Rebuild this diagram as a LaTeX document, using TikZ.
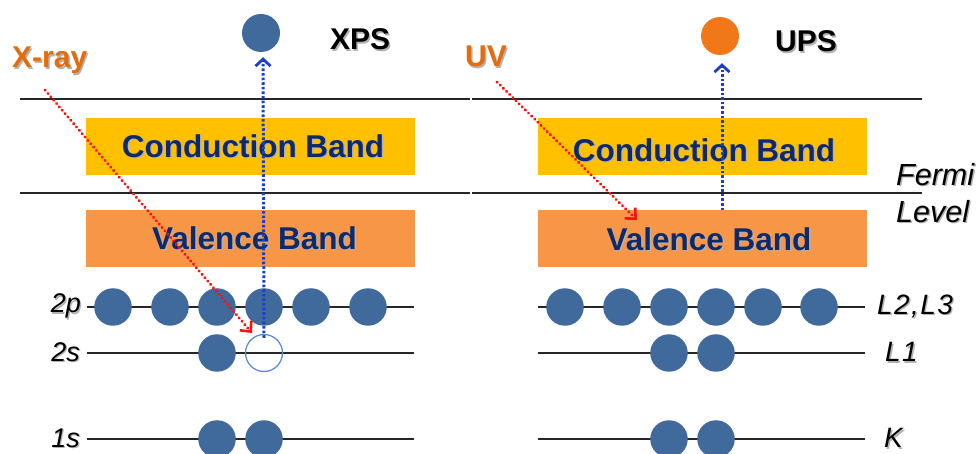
\documentclass[tikz,border=0pt]{standalone}
\usepackage{fontspec}
\setmainfont{Liberation Sans}
\usetikzlibrary{arrows.meta}
\definecolor{elec}{HTML}{40699C}
\definecolor{cband}{HTML}{FFC000}
\definecolor{vband}{HTML}{F79646}
\definecolor{bandtxt}{HTML}{0E2A6B}
\definecolor{rayc}{HTML}{E46C0A}
\definecolor{upsc}{HTML}{F07818}
\definecolor{holec}{HTML}{5B8FD0}
\definecolor{redar}{HTML}{FF1010}
\definecolor{bluar}{HTML}{1A40C8}
\newcommand\shd[2][black!30]{\leavevmode\rlap{\kern1.4pt\raisebox{-1.4pt}{\textcolor{#1}{#2}}}#2}
\tikzset{
  band/.style={minimum width=329pt, minimum height=57pt, inner sep=0pt},
  cb/.style={band, fill=cband},
  vb/.style={band, fill=vband},
  bandlabel/.style={inner sep=0pt, text=bandtxt, font=\bfseries\fontsize{31.5}{31.5}\selectfont},
  level/.style={line width=1.3pt, black!85},
  sep/.style={line width=1.2pt, black!85},
  el/.style={circle, fill=elec, minimum size=37.5pt, inner sep=0pt},
  holebox/.style={circle, draw=holec, line width=1.3pt, minimum size=37pt, inner sep=0pt},
  lvl/.style={inner sep=0pt, font=\itshape\fontsize{27}{27}\selectfont},
  title/.style={inner sep=0pt, anchor=base west, font=\bfseries\fontsize{30}{30}\selectfont},
  redray/.style={redar, line width=3pt, line cap=round, dash pattern=on 0.4pt off 4pt,
    -{Straight Barb[length=8pt,width=15pt,line width=2.6pt]}},
  bluray/.style={bluar, line width=3pt, dash pattern=on 2.6pt off 2pt,
    -{Straight Barb[length=7pt,width=15pt,line width=2.8pt]}},
}
\begin{document}
\begin{tikzpicture}[x=1pt,y=-1pt]
\useasboundingbox[fill=white] (0,0) rectangle (978,454);
% separator lines
\draw[sep] (20,99) -- (470,99);
\draw[sep] (472,99) -- (922,99);
\draw[sep] (20,193) -- (470,193);
\draw[sep] (472,193) -- (922,193);
% bands
\node[cb] (cbL) at (250.5,146.5) {};
\node[vb] (vbL) at (250.5,239) {};
\node[cb] (cbR) at (702,146.5) {};
\node[vb] (vbR) at (702,239) {};
\node[bandlabel] (cbLt) at (253,147) {\shd{Conduction Band}};
\node[bandlabel] (vbLt) at (254.5,239) {\shd{Valence Band}};
\node[bandlabel] (cbRt) at (704,151) {\shd{Conduction Band}};
\node[bandlabel] (vbRt) at (709,240) {\shd{Valence Band}};
% level lines
\foreach \y in {307,353,439} {
  \draw[level] (87,\y) -- (414,\y);
  \draw[level] (538,\y) -- (865,\y);
}
% left electrons
\foreach \x [count=\i] in {113,170,217,264,311,368} \node[el] (pL\i) at (\x,307) {};
\node[el] (sL1) at (217,353) {};
\node[holebox] (hole) at (264,353) {};
\node[el] (kL1) at (217,439) {};
\node[el] (kL2) at (264,439) {};
% right electrons
\foreach \x [count=\i] in {565,622,669,716,763,819} \node[el] (pR\i) at (\x,307) {};
\node[el] (sR1) at (669,353) {};
\node[el] (sR2) at (716,353) {};
\node[el] (kR1) at (669,439) {};
\node[el] (kR2) at (716,439) {};
% emitted electrons
\node[el, minimum size=38pt] (eL) at (261,33) {};
\node[el, fill=upsc, minimum size=38pt] (eR) at (720,36) {};
% level labels
\node[lvl, anchor=east] (l2p) at (81,307) {\shd{2p}};
\node[lvl, anchor=east] (l2s) at (80,353) {\shd{2s}};
\node[lvl, anchor=east] (l1s) at (80,439) {\shd{1s}};
\node[lvl, anchor=west, font=\itshape\fontsize{28}{28}\selectfont\addfontfeature{LetterSpace=5}] (lL23) at (877,307) {\shd{L2,L3}};
\node[lvl, anchor=west, font=\itshape\fontsize{28}{28}\selectfont\addfontfeature{LetterSpace=5}] (lL1) at (885,353) {\shd{L1}};
\node[lvl, anchor=west, font=\itshape\fontsize{28}{28}\selectfont] (lK) at (884,439) {\shd{K}};
\node[inner sep=0pt, anchor=north west, align=left, font=\itshape\fontsize{30.5}{37}\selectfont] (fermi) at (896,163) {\shd{Fermi}\\\shd{Level}};
% titles
\node[title, text=rayc] (xray) at (12,68) {\shd{X-ray}};
\node[title] (xps) at (330,50) {\shd{XPS}};
\node[title, text=rayc] (uv) at (465,67) {\shd{UV}};
\node[title] (ups) at (775,52) {\shd{UPS}};
% arrows
\coordinate (xs) at (45,90);
\coordinate (xe) at (252,333);
\coordinate (us) at (497,82);
\coordinate (ue) at (637,220);
\draw[redray] (xs) -- (xe);
\draw[redray] (us) -- (ue);
\draw[bluray] ([yshift=-4pt]hole.north) -- ([xshift=2pt,yshift=-5pt]eL.south);
\draw[bluray] ([xshift=2pt]eR |- vbR.north) -- ([xshift=2pt,yshift=-8pt]eR.south);
\end{tikzpicture}
\end{document}
